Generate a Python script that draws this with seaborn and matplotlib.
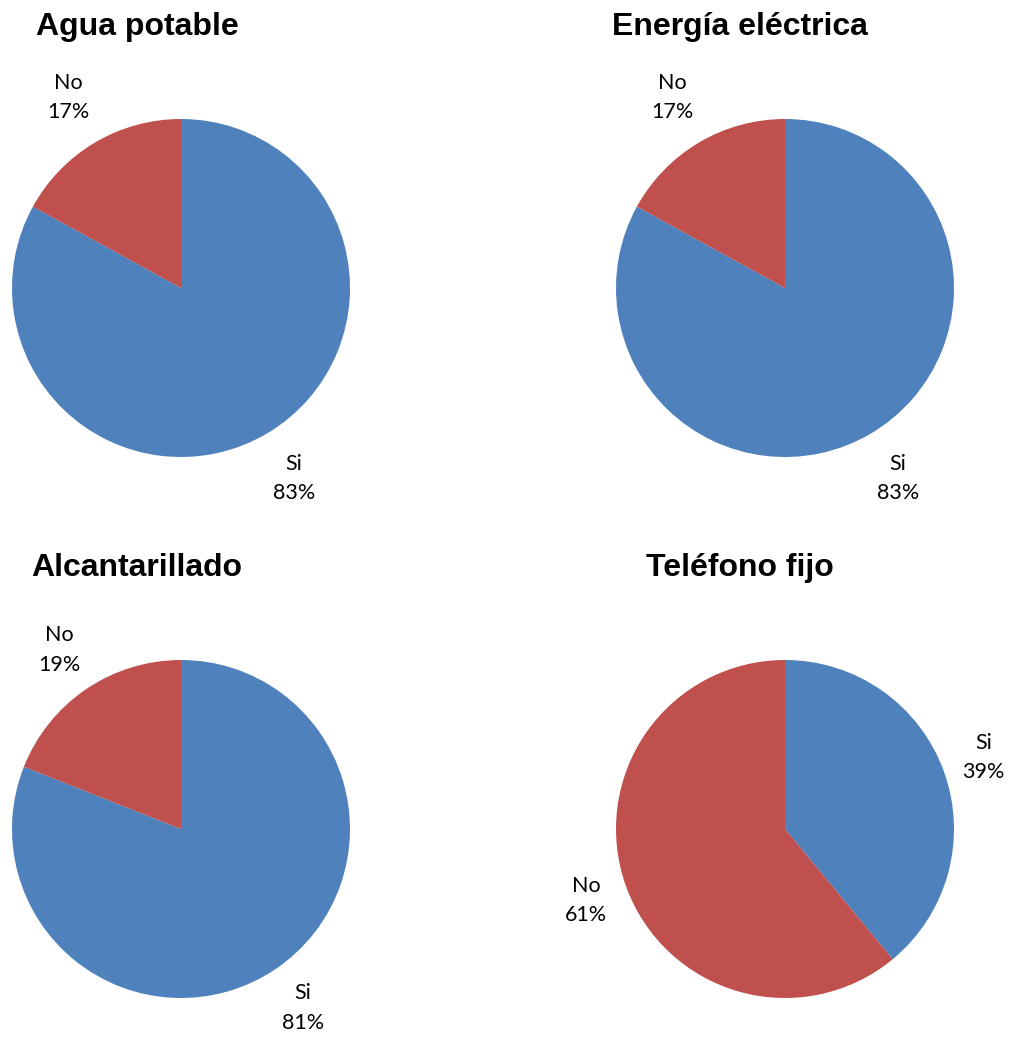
import seaborn as sns
import matplotlib.pyplot as plt

# datos de servicios básicos
titulos = ['Agua potable', 'Energía eléctrica', 'Alcantarillado', 'Teléfono fijo']
categorias = ['Si', 'No']
agua = [83, 17]
energia = [83, 17]
alcantarillado = [81, 19]
telefono = [39, 61]
valores = [agua, energia, alcantarillado, telefono]

sns.set_theme(style='white')
colores = sns.color_palette(['#4F81BD', '#C0504D'])

W, H = 1010, 1038
fig = plt.figure(figsize=(W / 100, H / 100), dpi=100)

centros = [(181, 288), (785, 288), (181, 829), (785, 829)]
pos_titulo = [(137, 27), (740, 27), (137, 568), (740, 568)]
dist_etiqueta = [1.31, 1.31, 1.28, 1.25]
R = 169

for i in range(4):
    cx, cy = centros[i]
    ax = fig.add_axes([(cx - R) / W, (H - cy - R) / H, 2 * R / W, 2 * R / H])
    etiquetas = [f'{c}\n{v}%' for c, v in zip(categorias, valores[i])]
    wedges, texts = ax.pie(valores[i], labels=etiquetas, colors=colores,
                           startangle=90, counterclock=False,
                           labeldistance=dist_etiqueta[i],
                           wedgeprops=dict(linewidth=0),
                           textprops=dict(fontsize=15.5, family=['Lato', 'DejaVu Sans'],
                                          color='black', linespacing=1.6))
    for t in texts:
        t.set_ha('center')
        t.set_va('center')
    ax.set_xlim(-1, 1)
    ax.set_ylim(-1, 1)
    ax.set_aspect('equal')
    ax.axis('off')
    tx, ty = pos_titulo[i]
    fig.text(tx / W, 1 - ty / H, titulos[i], ha='center', va='center', color='black',
             fontsize=23, fontweight='bold', family=['Liberation Sans', 'DejaVu Sans'])

fig.savefig('out.png', dpi=100, facecolor='white')
